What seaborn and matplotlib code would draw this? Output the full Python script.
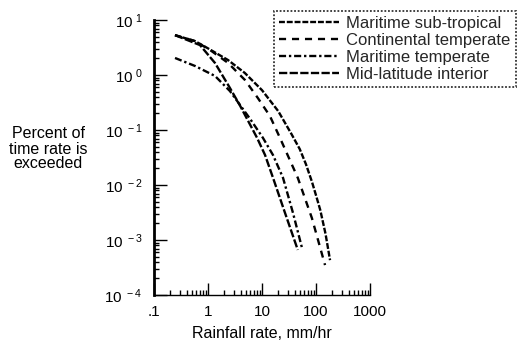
import matplotlib
matplotlib.use("Agg")
import matplotlib.pyplot as plt
import matplotlib.ticker as mticker
import numpy as np
import pandas as pd
import seaborn as sns

# ---- data ----
labels = ["Maritime sub-tropical", "Continental temperate",
          "Maritime temperate", "Mid-latitude interior"]

rate_sub_tropical = [0.245, 0.57, 1.0, 2.35, 4.8, 10, 20, 35, 50, 65, 84, 100, 120, 150, 182]
pct_sub_tropical = [5.3, 4.15, 3.05, 1.87, 1.09, 0.53, 0.22, 0.085, 0.045, 0.024, 0.0115,
                    0.0065, 0.0035, 0.0013, 0.00043]

rate_continental = [0.245, 0.57, 1.09, 2.35, 4.84, 8.4, 14, 21.5, 46, 84, 147]
pct_continental = [5.3, 4.15, 2.85, 1.66, 0.81, 0.38, 0.18, 0.072, 0.0135, 0.0025, 0.00035]

rate_maritime_temp = [0.245, 0.574, 1.35, 2.55, 6.0, 10.4, 16, 24.5, 37.5, 55]
pct_maritime_temp = [2.04, 1.46, 0.96, 0.51, 0.16, 0.072, 0.035, 0.0135, 0.0031, 0.00072]

rate_mid_lat = [0.245, 0.71, 1.35, 2.55, 3.9, 8.1, 11.4, 16, 26.7, 46]
pct_mid_lat = [5.3, 3.5, 1.65, 0.58, 0.28, 0.072, 0.035, 0.0135, 0.0031, 0.00066]

x_ticks = [0.1, 1, 10, 100, 1000]
x_tick_labels = [".1", "1", "10", "100", "1000"]
y_ticks = [1e-4, 1e-3, 1e-2, 1e-1, 1e0, 1e1]
y_tick_labels = [r"$\mathregular{10^{\ -4}}$", r"$\mathregular{10^{\ -3}}$",
                 r"$\mathregular{10^{\ -2}}$", r"$\mathregular{10^{\ -1}}$",
                 r"$\mathregular{10^{\ 0}}$", r"$\mathregular{10^{\ 1}}$"]

series = [(labels[0], rate_sub_tropical, pct_sub_tropical),
          (labels[1], rate_continental, pct_continental),
          (labels[2], rate_maritime_temp, pct_maritime_temp),
          (labels[3], rate_mid_lat, pct_mid_lat)]

rows = []
for name, xs, ys in series:
    for xv, yv in zip(xs, ys):
        rows.append({"climate": name, "rate": xv, "pct": yv})
df = pd.DataFrame(rows)

sns.set_theme(style="white")
plt.rcParams["font.family"] = ["Liberation Sans", "DejaVu Sans"]
plt.rcParams["mathtext.fontset"] = "custom"
plt.rcParams["mathtext.rm"] = "Liberation Sans"

fig = plt.figure(figsize=(5.3, 3.45), dpi=100)
ax = fig.add_axes([154 / 530, 1 - 295 / 345, (370 - 154) / 530, (295 - 20) / 345])

dash_map = {labels[0]: (2.5, 0.8),
            labels[1]: (3, 2.5),
            labels[2]: (3, 1.2, 1, 1.2),
            labels[3]: (3.5, 1)}

sns.lineplot(data=df, x="rate", y="pct", hue="climate", style="climate",
             hue_order=labels, style_order=labels,
             palette=["black"] * 4, dashes=dash_map, sort=False,
             estimator=None, units="climate", linewidth=1.7, ax=ax, legend=True)

handles, lbls = ax.get_legend_handles_labels()
ax.get_legend().remove()

ax.set_xscale("log")
ax.set_yscale("log")
ax.set_xlim(0.1, 1000)
ax.set_ylim(1e-4, 10)

ax.xaxis.set_major_locator(mticker.FixedLocator(x_ticks))
ax.xaxis.set_major_formatter(mticker.FixedFormatter(x_tick_labels))
ax.yaxis.set_major_locator(mticker.FixedLocator(y_ticks))
ax.yaxis.set_major_formatter(mticker.FixedFormatter(y_tick_labels))
ax.xaxis.set_minor_locator(mticker.LogLocator(base=10, subs=np.arange(2, 10), numticks=20))
ax.yaxis.set_minor_locator(mticker.LogLocator(base=10, subs=np.arange(2, 10), numticks=20))
ax.xaxis.set_minor_formatter(mticker.NullFormatter())
ax.yaxis.set_minor_formatter(mticker.NullFormatter())

ax.tick_params(axis="both", which="major", direction="in", length=9, width=1,
               color="black", labelsize=11, labelcolor="black",
               left=True, bottom=True, top=False, right=False)
ax.tick_params(axis="both", which="minor", direction="in", length=3.5, width=1,
               color="black", left=True, bottom=True, top=False, right=False)
ax.tick_params(axis="y", which="major", pad=8)
ax.tick_params(axis="x", which="major", pad=7)

for side in ["top", "right"]:
    ax.spines[side].set_visible(False)
ax.spines["left"].set_linewidth(2.0)
ax.spines["left"].set_color("black")
ax.spines["bottom"].set_linewidth(1.0)
ax.spines["bottom"].set_color("black")

ax.set_xlabel("Rainfall rate, mm/hr", fontsize=11.5, color="black", labelpad=5)
ax.set_ylabel("")
fig.text(48 / 530, 1 - 149 / 345, "Percent of\ntime rate is\nexceeded",
         ha="center", va="center", fontsize=11.5, linespacing=1.0, color="black")

leg = fig.legend(handles, lbls, loc="upper left",
                 bbox_to_anchor=(274 / 530, 1 - 11 / 345),
                 frameon=True, fontsize=12, handlelength=3.6, handletextpad=0.45,
                 labelspacing=0.12, borderpad=0.3, borderaxespad=0,
                 fancybox=False, edgecolor="black")
leg.get_frame().set_linestyle((0, (1, 1)))
leg.get_frame().set_linewidth(1.3)

fig.savefig("out.png", dpi=100)
